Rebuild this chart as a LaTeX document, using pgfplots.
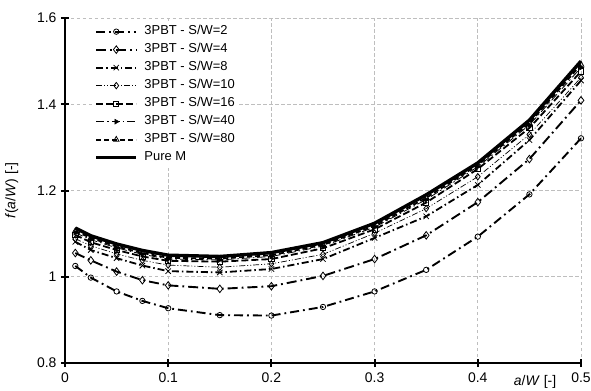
\documentclass[border=0pt]{standalone}
\usepackage{fontspec}
\setmainfont{Liberation Sans}
\usepackage{pgfplots}
\pgfplotsset{compat=1.18}
\definecolor{gridgray}{RGB}{190,190,190}
\begin{document}
\begin{tikzpicture}
\useasboundingbox (-65bp,-28bp) rectangle (526bp,363bp);
\begin{axis}[
  at={(0,0)}, anchor=south west,
  scale only axis, width=516bp, height=345bp,
  xmin=0, xmax=0.5, ymin=0.8, ymax=1.6,
  xtick={0,0.1,0.2,0.3,0.4,0.5},
  ytick={0.8,1,1.2,1.4,1.6},
  axis x line=bottom, axis y line=left,
  axis line style={-, line width=2.2bp, black},
  grid=major, grid style={gridgray, line width=0.7bp, dash pattern=on 3.5bp off 2.5bp},
  tick align=center, major tick length=8bp,
  tick style={line width=2bp, black},
  /pgf/number format/assume math mode=true,
  ticklabel style={font=\fontsize{14}{16}\selectfont},
  xticklabel style={yshift=-2bp},
  yticklabel style={xshift=-1bp},
  xlabel={\textit{a}/\textit{W} [-]},
  ylabel={\textit{f}(\textit{a}/\textit{W}) [-]},
  every axis x label/.style={at={(axis description cs:0.911,0)}, anchor=north, yshift=-9bp, font=\fontsize{14}{16}\selectfont},
  every axis y label/.style={at={(axis description cs:-0.103,0.5)}, rotate=90, anchor=center, font=\fontsize{14}{16}\selectfont},
  clip=false,
  legend cell align=left,
  legend image code/.code={\draw[mark repeat=2,mark phase=2,#1] plot coordinates {(0bp,0bp) (20bp,0bp) (40bp,0bp)};},
  legend style={at={(axis description cs:0.055,0.99)}, anchor=north west, draw=none, fill=white,
    inner sep=1bp, font=\fontsize{13}{15}\selectfont,
    nodes={inner sep=1.5bp, text height=10.8bp, text depth=4.2bp},
    /tikz/every odd column/.append style={column sep=5bp}},
  every axis plot/.append style={black},
]
\addplot[line width=1.9bp, dash pattern=on 9bp off 4bp on 1.8bp off 4bp,
  mark=o, mark size=2.7bp, mark options={solid, line width=0.8bp, fill=white}] coordinates {
(0.01,1.025) (0.025,0.998) (0.05,0.966) (0.075,0.944) (0.1,0.927) (0.15,0.911) (0.2,0.910)
(0.25,0.930) (0.3,0.966) (0.35,1.016) (0.4,1.093) (0.45,1.191) (0.5,1.321)};
\addlegendentry{3PBT - S/W=2}
\addplot[line width=1.9bp, dash pattern=on 10bp off 4bp on 1.8bp off 4bp,
  mark=diamond, mark size=3.8bp, mark options={solid, line width=0.8bp, fill=white}] coordinates {
(0.01,1.055) (0.025,1.038) (0.05,1.012) (0.075,0.992) (0.1,0.980) (0.15,0.972) (0.2,0.978)
(0.25,1.002) (0.3,1.041) (0.35,1.096) (0.4,1.173) (0.45,1.273) (0.5,1.409)};
\addlegendentry{3PBT - S/W=4}
\addplot[line width=1.8bp, dash pattern=on 7bp off 3bp on 1.5bp off 3bp,
  mark=x, mark size=3.8bp, mark options={solid, line width=0.8bp}] coordinates {
(0.01,1.081) (0.025,1.062) (0.05,1.043) (0.075,1.026) (0.1,1.013) (0.15,1.010) (0.2,1.018)
(0.25,1.041) (0.3,1.090) (0.35,1.140) (0.4,1.213) (0.45,1.317) (0.5,1.455)};
\addlegendentry{3PBT - S/W=8}
\addplot[line width=0.7bp, dash pattern=on 6bp off 2bp on 1bp off 2bp on 1bp off 2bp,
  mark=diamond, mark size=3.2bp, mark options={solid, line width=0.8bp, fill=white}] coordinates {
(0.01,1.088) (0.025,1.072) (0.05,1.053) (0.075,1.038) (0.1,1.027) (0.15,1.022) (0.2,1.030)
(0.25,1.052) (0.3,1.101) (0.35,1.158) (0.4,1.232) (0.45,1.330) (0.5,1.462)};
\addlegendentry{3PBT - S/W=10}
\addplot[line width=1.8bp, dash pattern=on 7bp off 3bp,
  mark=square, mark size=2.6bp, mark options={solid, line width=0.8bp, fill=white}] coordinates {
(0.01,1.097) (0.025,1.080) (0.05,1.062) (0.075,1.047) (0.1,1.037) (0.15,1.035) (0.2,1.041)
(0.25,1.066) (0.3,1.110) (0.35,1.172) (0.4,1.250) (0.45,1.345) (0.5,1.476)};
\addlegendentry{3PBT - S/W=16}
\addplot[line width=0.8bp, dash pattern=on 8bp off 3bp on 1.5bp off 3bp,
  mark=triangle*, mark size=2.8bp, mark options={solid, rotate=-90, line width=0.5bp, fill=black}] coordinates {
(0.01,1.102) (0.025,1.086) (0.05,1.067) (0.075,1.052) (0.1,1.041) (0.15,1.039) (0.2,1.047)
(0.25,1.071) (0.3,1.115) (0.35,1.179) (0.4,1.255) (0.45,1.352) (0.5,1.485)};
\addlegendentry{3PBT - S/W=40}
\addplot[line width=1.8bp, dash pattern=on 5bp off 3bp,
  mark=triangle, mark size=3.2bp, mark options={solid, line width=0.8bp, fill=white}] coordinates {
(0.01,1.106) (0.025,1.090) (0.05,1.070) (0.075,1.055) (0.1,1.044) (0.15,1.042) (0.2,1.050)
(0.25,1.074) (0.3,1.118) (0.35,1.183) (0.4,1.259) (0.45,1.356) (0.5,1.492)};
\addlegendentry{3PBT - S/W=80}
\addplot[line width=3.4bp, no marks] coordinates {
(0.01,1.113) (0.025,1.095) (0.05,1.076) (0.075,1.061) (0.1,1.050) (0.15,1.047) (0.2,1.056)
(0.25,1.079) (0.3,1.124) (0.35,1.190) (0.4,1.264) (0.45,1.363) (0.5,1.500)};
\addlegendentry{Pure M}
\end{axis}
\end{tikzpicture}
\end{document}
